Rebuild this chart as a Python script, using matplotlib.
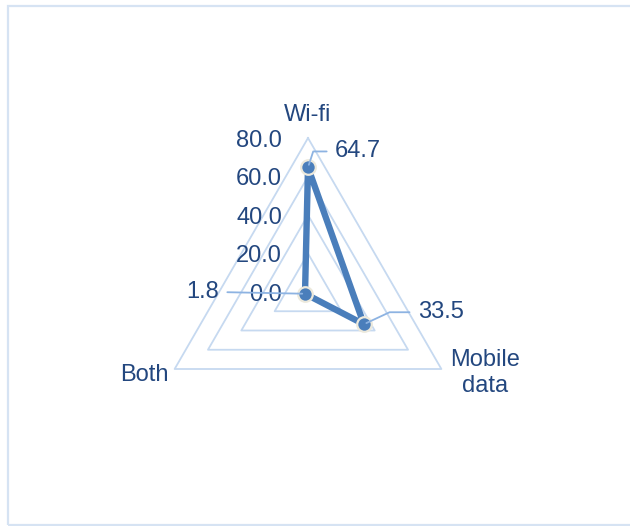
import numpy as np
import matplotlib
matplotlib.use("Agg")
import matplotlib.pyplot as plt
from matplotlib.patches import Rectangle

categories = ["Wi-fi", "Mobile\ndata", "Both"]
values = [64.7, 33.5, 1.8]
value_labels = ["64.7", "33.5", "1.8"]
grid_levels = [0, 20, 40, 60, 80]
tick_labels = ["0.0", "20.0", "40.0", "60.0", "80.0"]

W, H = 630, 526
cx, cy = 308, 292          # pixel centre (from top)
R = 154                    # pixels for max value
vmax = 80
scale = R / vmax           # px per unit

text_color = "#23477f"
grid_color = "#c6d9f0"
line_color = "#4a7ebb"
leader_color = "#8db3e2"
fs = 17

plt.rcParams["font.family"] = ["Liberation Sans", "DejaVu Sans"]

fig = plt.figure(figsize=(W / 100, H / 100), dpi=100)
ax = fig.add_axes([0, 0, 1, 1])
ax.set_xlim(-cx / scale, (W - cx) / scale)
ax.set_ylim(-(H - cy) / scale, cy / scale)
ax.axis("off")

# frame
fig.patches.append(Rectangle((7.5 / W, (H - 524.5) / H), (W + 20) / W, (524.5 - 6) / H,
                             transform=fig.transFigure, fill=False,
                             edgecolor="#d6e3f3", linewidth=1.6))

angles = np.deg2rad([90, -30, 210])

def xy(vals):
    v = np.asarray(vals, dtype=float)
    return v * np.cos(angles), v * np.sin(angles)

# grid triangles
for lv in grid_levels[1:]:
    gx, gy = xy([lv] * 3)
    ax.plot(np.append(gx, gx[0]), np.append(gy, gy[0]), color=grid_color, lw=1.3, zorder=1)

# tick labels
for lv, tl in zip(grid_levels, tick_labels):
    ax.annotate(tl, (0, lv), xytext=(-26, -3), textcoords="offset pixels",
                ha="right", va="center", fontsize=fs, color=text_color)

# category labels
cat_offsets = [((0, 23), "center", "center"),
               ((9, -4), "left", "center"),
               ((-6, -6), "right", "center")]
mx, my = xy([vmax] * 3)
for i, cat in enumerate(categories):
    off, ha, va = cat_offsets[i]
    ax.annotate(cat, (mx[i], my[i]), xytext=off, textcoords="offset pixels",
                ha=ha, va=va, fontsize=fs, color=text_color, multialignment="center",
                linespacing=1.25)

# data
dx, dy = xy(values)
ax.plot(np.append(dx, dx[0]), np.append(dy, dy[0]), color=line_color, lw=4.6,
        solid_joinstyle="miter", zorder=3)
ax.plot(dx, dy, "o", ms=10.5, mfc=line_color, mec="#ece9dc", mew=1.6, zorder=4)

# data labels with leader lines
lab_cfg = [((27, 16), "left", "angle,angleA=0,angleB=72,rad=0"),
           ((54, 12), "left", "angle,angleA=0,angleB=25,rad=0"),
           ((-86, 2), "right", "arc3,rad=0")]
for i, lab in enumerate(value_labels):
    off, ha, cs = lab_cfg[i]
    ax.annotate(lab, (dx[i], dy[i]), xytext=off, textcoords="offset pixels",
                ha=ha, va="center", fontsize=fs, color=text_color, zorder=5,
                arrowprops=dict(arrowstyle="-", color=leader_color, lw=1.3,
                                connectionstyle=cs, shrinkA=4, shrinkB=2),
                )

fig.savefig("out.png", dpi=100)
